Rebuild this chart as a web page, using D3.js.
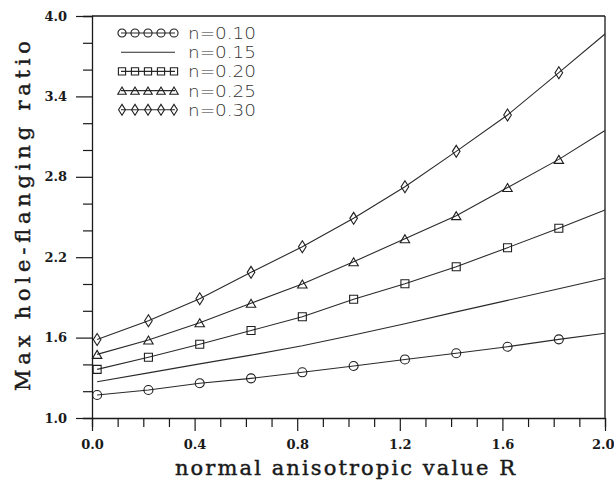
<!DOCTYPE html>
<html><head><meta charset="utf-8">
<script src="https://cdn.jsdelivr.net/npm/d3@7"></script>
<style>html,body{margin:0;padding:0;background:#fff;overflow:hidden}</style>
</head><body>
<svg id="chart" width="614" height="484"></svg>
<script>
// ---- data ----
const R = [0.02, 0.22, 0.42, 0.62, 0.82, 1.02, 1.22, 1.42, 1.62, 1.82, 2.0];
const n010 = [1.172, 1.209, 1.259, 1.296, 1.341, 1.388, 1.437, 1.483, 1.532, 1.587, 1.632];
const n015 = [1.270, 1.337, 1.404, 1.469, 1.539, 1.619, 1.703, 1.792, 1.878, 1.964, 2.043];
const n020 = [1.363, 1.453, 1.550, 1.653, 1.756, 1.886, 2.002, 2.129, 2.271, 2.416, 2.552];
const n025 = [1.475, 1.582, 1.711, 1.856, 2.000, 2.166, 2.338, 2.510, 2.720, 2.930, 3.146];
const n030 = [1.586, 1.726, 1.890, 2.087, 2.278, 2.490, 2.726, 2.990, 3.261, 3.577, 3.866];
const seriesNames = ["n=0.10", "n=0.15", "n=0.20", "n=0.25", "n=0.30"];
const seriesMarkers = ["circle", "none", "square", "triangle", "diamond"];
const xTicks = d3.range(0, 21).map(i => i / 10);
const yTicks = d3.range(0, 16).map(i => +(1 + i * 0.2).toFixed(1));
const xTitle = "normal anisotropic value R";
const yTitle = "Max hole-flanging ratio";

const seriesValues = [n010, n015, n020, n025, n030];

const svg = d3.select("#chart");
const x = d3.scaleLinear([0, 2], [92, 605]);
const y = d3.scaleLinear([1, 4], [418, 16]);
const ink = "#1a1a1a";

// marker paths
function markerPath(type, cx, cy, s) {
  s = s || 1;
  if (type === "circle") {
    const r = 4.5 * s;
    return `M${cx - r},${cy}a${r},${r} 0 1,0 ${2 * r},0a${r},${r} 0 1,0 ${-2 * r},0Z`;
  }
  if (type === "square") {
    const h = 4 * s;
    return `M${cx - h},${cy - h}h${2 * h}v${2 * h}h${-2 * h}Z`;
  }
  if (type === "triangle") {
    const w = 4.7 * s, h = 4 * s;
    return `M${cx},${cy - h}L${cx + w},${cy + h}L${cx - w},${cy + h}Z`;
  }
  if (type === "diamond") {
    const w = 3.8 * s, h = 6 * s;
    return `M${cx},${cy - h}L${cx + w},${cy}L${cx},${cy + h}L${cx - w},${cy}Z`;
  }
  return "";
}

// ---- axes ----
const isMajorX = d => Math.round(d * 10) % 4 === 0;
const xAxis = d3.axisBottom(x).tickValues(xTicks).tickSizeOuter(0)
  .tickSize(9).tickPadding(10)
  .tickFormat(d => isMajorX(d) ? d.toFixed(1) : "");
const gx = svg.append("g").attr("transform", `translate(0,${y(1)})`).call(xAxis);
gx.selectAll(".tick line").filter(d => isMajorX(d)).attr("y2", 13);

const isMajorY = d => Math.round((d - 1) * 10) % 6 === 0;
const yAxis = d3.axisLeft(y).tickValues(yTicks).tickSizeOuter(0)
  .tickSize(9).tickPadding(12)
  .tickFormat(d => isMajorY(d) ? d.toFixed(1) : "");
const gy = svg.append("g").attr("transform", `translate(${x(0)},0)`).call(yAxis);
gy.selectAll(".tick line").filter(d => isMajorY(d)).attr("x2", -16);
gy.selectAll(".tick text").attr("dx", "-4");

[gx, gy].forEach(g => {
  g.selectAll("path.domain").attr("stroke", ink).attr("stroke-width", 1.3);
  g.selectAll(".tick line").attr("stroke", ink).attr("stroke-width", 1.2);
  g.selectAll(".tick text").attr("fill", ink)
    .style("font-family", "'DejaVu Serif', serif").style("font-size", "13px").style("font-weight", "bold");
});
gx.selectAll(".tick text").attr("dy", "0.9em");
// keep the last label inside the window
gx.selectAll(".tick text").filter(d => d === 2).attr("text-anchor", "end").attr("dx", "9");

// frame top & right
svg.append("line").attr("x1", x(0)).attr("x2", x(2)).attr("y1", y(4)).attr("y2", y(4))
  .attr("stroke", ink).attr("stroke-width", 1.3);
svg.append("line").attr("x1", x(2)).attr("x2", x(2)).attr("y1", y(4)).attr("y2", y(1))
  .attr("stroke", ink).attr("stroke-width", 1.3);

// axis titles
svg.append("text").attr("x", 345).attr("y", 475).attr("text-anchor", "middle")
  .attr("textLength", 340).attr("lengthAdjust", "spacing")
  .style("font-family", "'DejaVu Serif', serif").style("font-size", "21px")
  .attr("fill", ink).attr("stroke", ink).attr("stroke-width", 0.45)
  .text(xTitle);
svg.append("text").attr("transform", "translate(30,216) rotate(-90)").attr("text-anchor", "middle")
  .attr("textLength", 350).attr("lengthAdjust", "spacing")
  .style("font-family", "'DejaVu Serif', serif").style("font-size", "21px")
  .attr("fill", ink).attr("stroke", ink).attr("stroke-width", 0.45)
  .text(yTitle);

// ---- series ----
const line = d3.line().x((d, i) => x(R[i])).y(d => y(d));
seriesValues.forEach((vals, si) => {
  svg.append("path").attr("d", line(vals)).attr("fill", "none")
    .attr("stroke", "#2a2a2a").attr("stroke-width", 1.1);
  const mk = seriesMarkers[si];
  if (mk !== "none") {
    svg.append("g").selectAll("path").data(vals.slice(0, R.length - 1)).join("path")
      .attr("d", (d, i) => markerPath(mk, x(R[i]), y(d)))
      .attr("fill", "none").attr("stroke", "#1e1e1e").attr("stroke-width", 1.1);
  }
});

// ---- legend ----
const leg = svg.append("g");
seriesNames.forEach((name, i) => {
  const ly = 33 + i * 19.2;
  const row = leg.append("g");
  row.append("line").attr("x1", 121).attr("x2", 175).attr("y1", ly).attr("y2", ly)
    .attr("stroke", "#2a2a2a").attr("stroke-width", 1.1);
  const mk = seriesMarkers[i];
  if (mk !== "none") {
    row.selectAll("path").data(d3.range(5)).join("path")
      .attr("d", k => markerPath(mk, 122 + k * 13, ly, 0.9))
      .attr("fill", "none").attr("stroke", "#1e1e1e").attr("stroke-width", 1.1);
  }
  row.append("text").attr("x", 188).attr("y", ly + 6)
    .attr("textLength", 68).attr("lengthAdjust", "spacingAndGlyphs")
    .style("font-family", "'DejaVu Sans', sans-serif").style("font-size", "15px")
    .style("font-weight", "300")
    .attr("fill", "#333").text(name);
});
</script>
</body></html>
